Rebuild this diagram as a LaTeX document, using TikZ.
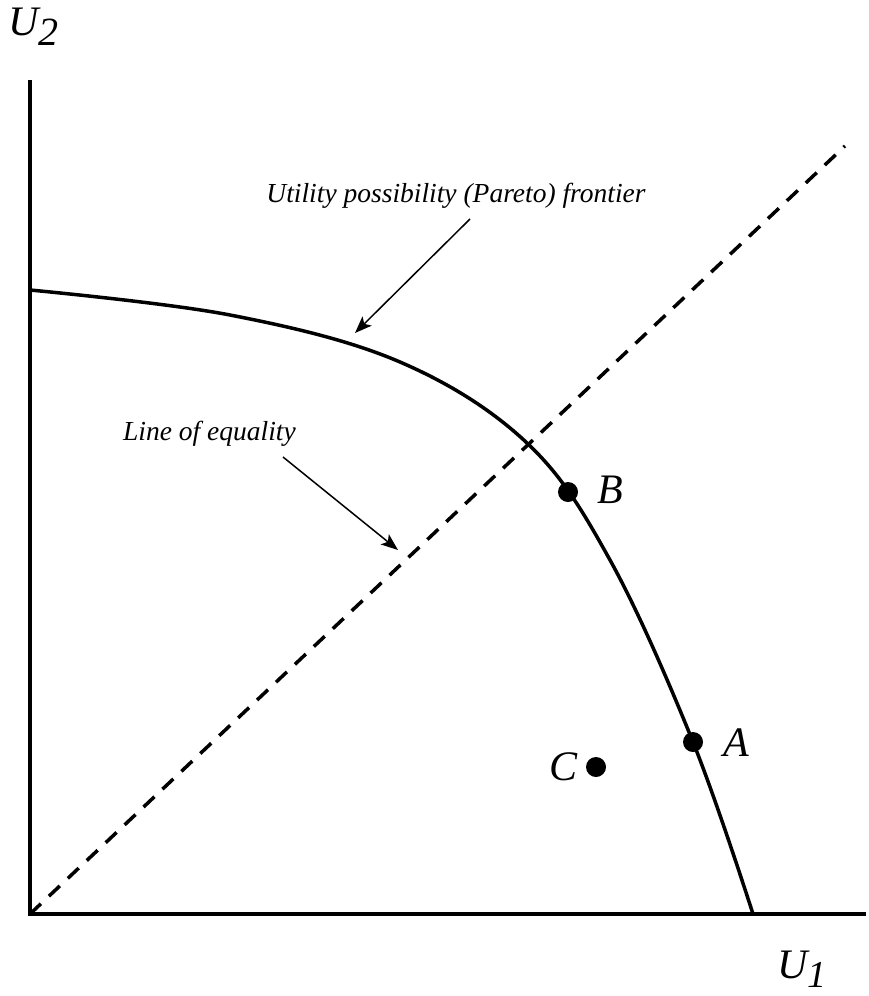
\documentclass[tikz,border=0pt]{standalone}
\usepackage{fontspec}
\setmainfont{Liberation Serif}
\usetikzlibrary{arrows.meta}
\begin{document}
\begin{tikzpicture}[x=1pt,y=-1pt,
  axisline/.style={line width=4pt},
  frontier/.style={line width=3.5pt},
  equality/.style={line width=3.5pt, dash pattern=on 15pt off 11pt},
  pointer/.style={line width=1.5pt, -{Stealth[length=17pt,width=13pt,inset=4pt]}},
  dotpt/.style={circle, fill=black, inner sep=0pt, minimum size=20pt},
  biglabel/.style={font=\fontsize{42}{48}\selectfont\itshape, inner sep=0pt},
  smalllabel/.style={font=\fontsize{27.5}{32}\selectfont\itshape, inner sep=0pt, anchor=base}]
\useasboundingbox (0,0) rectangle (868,996);
\coordinate (O) at (30,914);
\coordinate (ytop) at (30,80);
\coordinate (xend) at (866,914);
\coordinate (eqend) at (845,146);
\draw[axisline] (ytop) -- (O) -- (xend);
\draw[equality] (O) -- (eqend);
\draw[frontier, line cap=round] plot[smooth, tension=0.6] coordinates {(30,290) (230,315) (400,362) (527,443) (610,560) (693,742) (753,914)};
\node[dotpt] (B) at (568,492) {};
\node[dotpt] (A) at (693,742) {};
\node[dotpt] (C) at (596,767) {};
\node[biglabel, anchor=base west] (Bl) at (597,503) {B};
\node[biglabel, anchor=base west] (Al) at (723,756) {A};
\node[biglabel, anchor=base west] (Cl) at (549,780) {C};
\node[biglabel, anchor=base west] (U2) at (8,35) {U\raisebox{-10pt}[0pt][0pt]{\fontsize{40}{44}\selectfont 2}};
\node[biglabel, anchor=base west] (U1) at (777,978) {U\raisebox{-9pt}[0pt][0pt]{\fontsize{38}{44}\selectfont 1}};
\node[smalllabel] (ptext) at (456,202) {Utility possibility (Pareto) frontier};
\node[smalllabel] (etext) at (209.5,440) {Line of equality};
\coordinate (p1) at (470,219);
\coordinate (p2) at (355,333);
\coordinate (e1) at (283,457);
\coordinate (e2) at (398,550);
\draw[pointer] (p1) -- (p2);
\draw[pointer] (e1) -- (e2);
\end{tikzpicture}
\end{document}
